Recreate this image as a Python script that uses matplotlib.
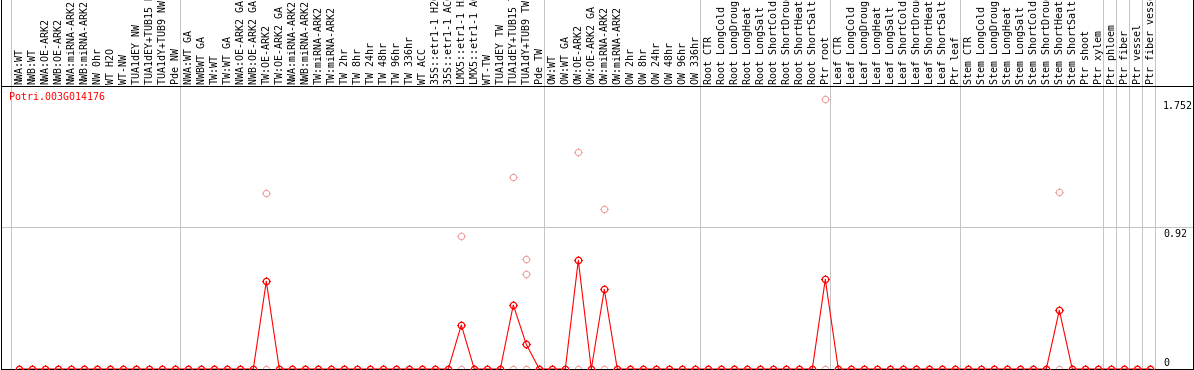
import matplotlib
matplotlib.use("Agg")
import matplotlib.pyplot as plt
from matplotlib.path import Path
from matplotlib import transforms
import numpy as np

# ---------------- data ----------------
gene_id = "Potri.003G014176"

samples = [
    "NWA:WT", "NWB:WT", "NWA:OE-ARK2", "NWB:OE-ARK2", "NWA:miRNA-ARK2",
    "NWB:miRNA-ARK2", "NW 0hr", "WT H2O", "WT-NW", "TUA1dEY NW",
    "TUA1dEY+TUB15 NW", "TUA1dY+TUB9 NW", "Pde NW",
    "NWA:WT GA", "NWBWT GA", "TW:WT", "TW:WT GA", "NWA:OE-ARK2 GA",
    "NWB:OE-ARK2 GA", "TW:OE-ARK2", "TW:OE-ARK2 GA", "NWA:miRNA-ARK2",
    "NWB:miRNA-ARK2", "TW:miRNA-ARK2", "TW:miRNA-ARK2", "TW 2hr", "TW 8hr",
    "TW 24hr", "TW 48hr", "TW 96hr", "TW 336hr", "WT ACC",
    "35S::etr1-1 H2O", "35S::etr1-1 ACC", "LMX5::etr1-1 H2O",
    "LMX5::etr1-1 ACC", "WT-TW", "TUA1dEY TW", "TUA1dEY+TUB15 TW",
    "TUA1dY+TUB9 TW", "Pde TW",
    "OW:WT", "OW:WT GA", "OW:OE-ARK2", "OW:OE-ARK2 GA", "OW:miRNA-ARK2",
    "OW:miRNA-ARK2", "OW 2hr", "OW 8hr", "OW 24hr", "OW 48hr", "OW 96hr",
    "OW 336hr",
    "Root CTR", "Root LongCold", "Root LongDrought", "Root LongHeat",
    "Root LongSalt", "Root ShortCold", "Root ShortDrought", "Root ShortHeat",
    "Root ShortSalt", "Ptr root",
    "Leaf CTR", "Leaf LongCold", "Leaf LongDrought", "Leaf LongHeat",
    "Leaf LongSalt", "Leaf ShortCold", "Leaf ShortDrought", "Leaf ShortHeat",
    "Leaf ShortSalt", "Ptr leaf",
    "Stem CTR", "Stem LongCold", "Stem LongDrought", "Stem LongHeat",
    "Stem LongSalt", "Stem ShortCold", "Stem ShortDrought", "Stem ShortHeat",
    "Stem ShortSalt", "Ptr shoot", "Ptr xylem",
    "Ptr phloem", "Ptr fiber", "Ptr vessel", "Ptr fiber vessel",
]

group_sizes = [13, 28, 12, 10, 10, 11, 1, 1, 1, 1]

mean_expr = [
    0, 0, 0, 0, 0, 0, 0, 0, 0, 0, 0, 0, 0,                      # 0-12
    0, 0, 0, 0, 0, 0, 0.569, 0, 0, 0, 0, 0, 0, 0, 0, 0, 0, 0,  # 13-30
    0, 0, 0, 0.286, 0, 0, 0, 0.415, 0.160, 0,                   # 31-40
    0, 0, 0.706, 0, 0.517, 0, 0, 0, 0, 0, 0, 0,                 # 41-52
    0, 0, 0, 0, 0, 0, 0, 0, 0, 0.582,                           # 53-62
    0, 0, 0, 0, 0, 0, 0, 0, 0, 0,                               # 63-72
    0, 0, 0, 0, 0, 0, 0, 0.381, 0, 0, 0,                        # 73-83
    0, 0, 0, 0,                                                 # 84-87
]

# individual replicate values that are above zero (all others are zero)
rep_index = [19, 34, 38, 39, 39, 43, 45, 62, 80]
rep_value = [1.14, 0.86, 1.245, 0.712, 0.615, 1.41, 1.04, 1.752, 1.15]

ytick_values = [0, 0.92, 1.752]
ytick_labels = ["0", "0.92", "1.752"]
y_max = 1.84

# ---------------- layout ----------------
W, H, DPI = 1194, 370, 100
fig = plt.figure(figsize=(W / DPI, H / DPI), dpi=DPI)
fig.patch.set_facecolor("white")

RED = "#ff0000"
PINK = "#f0a0a0"
GRID = "#c4c4c4"
MONO = "DejaVu Sans Mono"
FS = 7.2
px = 72.0 / DPI  # one pixel in points

x_left_px, x_right_px = 1, 1193
plot_top_px, plot_bot_px = 85.5, 369
xlim = ((x_left_px - 19.3) / 13.0, (x_right_px - 19.3) / 13.0)

ax = fig.add_axes([x_left_px / W, (H - plot_bot_px) / H,
                   (x_right_px - x_left_px) / W, (plot_bot_px - plot_top_px) / H])
hax = fig.add_axes([x_left_px / W, (H - plot_top_px) / H,
                    (x_right_px - x_left_px) / W, plot_top_px / H])

for a in (ax, hax):
    a.set_xlim(*xlim)
    a.set_xticks([])
    a.set_yticks([])
    a.patch.set_alpha(0)
    for s in a.spines.values():
        s.set_color("black")
        s.set_linewidth(px)
        s.set_zorder(3)
        s.set_antialiased(False)
hax.spines["top"].set_visible(False)
hax.spines["bottom"].set_visible(False)
ax.set_ylim(0, y_max)
hax.set_ylim(0, 1)

# group separators
bounds = np.concatenate([[0], np.cumsum(group_sizes)])
for b in bounds:
    ax.axvline(b - 0.65, color=GRID, lw=px, zorder=1, antialiased=False)
    hax.axvline(b - 0.65, color=GRID, lw=px, zorder=1, antialiased=False)

# horizontal mid gridline
ax.axhline(ytick_values[1], color=GRID, lw=px, zorder=1, antialiased=False)

# marker: open circle with four small ticks
circ = Path.unit_circle()
ticks = Path([(0, 1), (0, 1.3), (0, -1), (0, -1.3),
              (1, 0), (1.3, 0), (-1, 0), (-1.3, 0)],
             [Path.MOVETO, Path.LINETO] * 4)
mk = Path.make_compound_path(circ, ticks)
ms = 2 * 1.3 * 3.2 * px

x = np.arange(len(samples))

# replicate points (pink)
ax.plot(x, np.zeros(len(samples)), ls="none", marker=mk, ms=ms, mfc="none",
        mec=PINK, mew=px, clip_on=False, zorder=2)
ax.plot(rep_index, rep_value, ls="none", marker=mk, ms=ms, mfc="none",
        mec=PINK, mew=px, clip_on=False, zorder=2)

# mean line (red)
ax.plot(x, mean_expr, color=RED, lw=px * 1.1, zorder=2.2, clip_on=False)
ax.plot(x, mean_expr, ls="none", marker=mk, ms=ms, mfc="none", mec=RED,
        mew=px * 1.2, clip_on=False, zorder=4)

# header labels
for i, lab in enumerate(samples):
    hax.text(i, 0, lab, rotation=90, ha="center", va="bottom",
             fontsize=FS, family=MONO, color="black",
             transform=hax.transData + transforms.ScaledTranslation(
                 0.4 / DPI, 1.2 / DPI, fig.dpi_scale_trans),
             clip_on=False)

# gene title
fig.text(9 / W, (H - 99.5) / H, gene_id, color=RED, fontsize=FS,
         family=MONO, ha="left", va="baseline")

# y value labels on the right
ylab_tr = transforms.blended_transform_factory(fig.transFigure, ax.transData)
for v, lab in zip(ytick_values, ytick_labels):
    if v == 0:
        off = transforms.ScaledTranslation(0, 3.3 / DPI, fig.dpi_scale_trans)
        va = "baseline"
    else:
        off = transforms.ScaledTranslation(0, -2.0 / DPI, fig.dpi_scale_trans)
        va = "top"
    ax.text(1163 / W, v, lab, transform=ylab_tr + off, ha="left", va=va,
            fontsize=FS, family=MONO, color="black", clip_on=False)

fig.savefig("out.png", dpi=DPI)
